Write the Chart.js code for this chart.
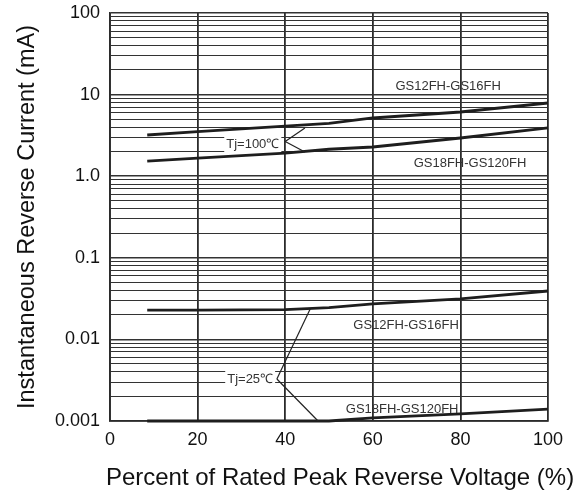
<!DOCTYPE html>
<html>
<head>
<meta charset="utf-8">
<script src="https://cdn.jsdelivr.net/npm/chart.js"></script>
<style>
  html, body { margin: 0; padding: 0; background: #fff; }
  #wrap { width: 584px; height: 494px; }
</style>
</head>
<body>
<div id="wrap"><canvas id="irChart"></canvas></div>
<script>
// Reverse leakage vs. percent of rated voltage (log axis)
const voltagePct = [8.5, 20, 40, 50, 60, 80, 100];

// Tj = 100 C
const hot12to16 = [3.20, 3.51, 4.12, 4.45, 5.17, 6.12, 7.89];
const hot18to120 = [1.53, 1.67, 1.92, 2.14, 2.28, 2.94, 3.90];
// Tj = 25 C
const cold12to16 = [0.0229, 0.0229, 0.0232, 0.0245, 0.0272, 0.0313, 0.0392];
const cold18to120 = [0.001, 0.001, 0.001, 0.001, 0.00109, 0.00122, 0.0014];

const xTicks = [0, 20, 40, 60, 80, 100];
const yDecades = [0.001, 0.01, 0.1, 1, 10, 100];
const yDecadeLabels = ['0.001', '0.01', '0.1', '1.0', '10', '100'];
const gridSteps = [1, 2, 3, 4, 5, 6, 7, 8, 9];

const xTitle = 'Percent of Rated Peak Reverse Voltage (%)';
const yTitle = 'Instantaneous Reverse Current (mA)';

// gridline values: 1..9 in every decade, then the top one
const yGrid = [];
yDecades.slice(0, -1).forEach(d => gridSteps.forEach(m => yGrid.push(+(d * m).toPrecision(3))));
yGrid.push(100);

const decadeLabel = (v) => {
    const i = yDecades.findIndex(d => Math.abs(v - d) / d < 1e-6);
    return i >= 0 ? yDecadeLabels[i] : '';
};

const pts = (ys) => voltagePct.map((x, i) => ({ x: x, y: ys[i] }));

const FONT = '"Liberation Sans", Arial, sans-serif';

const curveStyle = {
    borderColor: '#1e1e1e',
    borderWidth: 2.8,
    pointRadius: 0,
    tension: 0,
    fill: false,
    clip: false
};

// labels and leader lines, placed in data coordinates
const notes = [
    { text: 'GS12FH-GS16FH', x: 77.2, y: 12.7 },
    { text: 'GS18FH-GS120FH', x: 82.2, y: 1.45 },
    { text: 'Tj=100\u2103', x: 32.6, y: 2.48, bg: true },
    { text: 'GS12FH-GS16FH', x: 67.6, y: 0.0150 },
    { text: 'GS18FH-GS120FH', x: 66.7, y: 0.00140 },
    { text: 'Tj=25\u2103', x: 32.0, y: 0.00327, bg: true }
];
const leaders = [
    [[40, 2.66], [44.5, 3.90]],
    [[40, 2.66], [44.5, 1.98]],
    [[38.1, 0.00327], [45.7, 0.0236]],
    [[38.1, 0.00327], [47.5, 0.001]]
];

const notesPlugin = {
    id: 'notes',
    afterDatasetsDraw(chart) {
        const { ctx, scales: { x, y } } = chart;
        ctx.save();
        ctx.strokeStyle = '#222';
        ctx.lineWidth = 1.2;
        leaders.forEach(seg => {
            ctx.beginPath();
            ctx.moveTo(x.getPixelForValue(seg[0][0]), y.getPixelForValue(seg[0][1]));
            ctx.lineTo(x.getPixelForValue(seg[1][0]), y.getPixelForValue(seg[1][1]));
            ctx.stroke();
        });
        ctx.font = '13px ' + FONT;
        ctx.textAlign = 'center';
        ctx.textBaseline = 'middle';
        notes.forEach(n => {
            const px = x.getPixelForValue(n.x);
            const py = y.getPixelForValue(n.y);
            if (n.bg) {
                const w = ctx.measureText(n.text).width;
                ctx.fillStyle = '#fff';
                ctx.fillRect(px - w / 2 - 2, py - 8, w + 4, 16);
            }
            ctx.fillStyle = '#333';
            ctx.fillText(n.text, px, py);
        });
        ctx.restore();
    },
    // x title is wider than the plot, so it is drawn here without a max width
    afterDraw(chart) {
        const { ctx, chartArea } = chart;
        ctx.save();
        ctx.font = '24px ' + FONT;
        ctx.fillStyle = '#111';
        ctx.textAlign = 'center';
        ctx.textBaseline = 'alphabetic';
        ctx.fillText(xTitle, (chartArea.left + chartArea.right) / 2 + 11, chartArea.bottom + 64);
        ctx.restore();
    }
};

const ctx = document.getElementById('irChart').getContext('2d');

const chart = new Chart(ctx, {
    type: 'line',
    data: {
        datasets: [
            Object.assign({ label: 'GS12FH-GS16FH Tj=100', data: pts(hot12to16) }, curveStyle),
            Object.assign({ label: 'GS18FH-GS120FH Tj=100', data: pts(hot18to120) }, curveStyle),
            Object.assign({ label: 'GS12FH-GS16FH Tj=25', data: pts(cold12to16) }, curveStyle),
            Object.assign({ label: 'GS18FH-GS120FH Tj=25', data: pts(cold18to120) }, curveStyle)
        ]
    },
    options: {
        responsive: true,
        maintainAspectRatio: false,
        animation: false,
        layout: {
            padding: { left: 0, right: 36, top: 13, bottom: 0 }
        },
        plugins: {
            legend: { display: false },
            tooltip: { enabled: false }
        },
        scales: {
            x: {
                type: 'linear',
                min: 0,
                max: 100,
                afterBuildTicks: (scale) => { scale.ticks = xTicks.map(v => ({ value: v })); },
                afterFit: (scale) => {
                    scale.height = 73;
                    scale.paddingLeft = 0;
                    scale.paddingRight = 0;
                },
                grid: {
                    color: '#2b2b2b',
                    lineWidth: 1.8,
                    drawTicks: false
                },
                border: { color: '#2b2b2b', width: 1.8 },
                ticks: {
                    color: '#111',
                    padding: 8,
                    font: { family: FONT, size: 18 }
                }
            },
            y: {
                type: 'logarithmic',
                min: 0.001,
                max: 100,
                afterBuildTicks: (scale) => { scale.ticks = yGrid.map(v => ({ value: v })); },
                afterFit: (scale) => {
                    scale.width = 110;
                    scale.paddingTop = 0;
                    scale.paddingBottom = 0;
                },
                grid: {
                    color: '#333',
                    lineWidth: (c) => (decadeLabel(c.tick ? c.tick.value : 0) ? 1.6 : 1.1),
                    drawTicks: false
                },
                border: { color: '#2b2b2b', width: 1.8 },
                ticks: {
                    color: '#111',
                    padding: 10,
                    autoSkip: false,
                    font: { family: FONT, size: 18 },
                    callback: (value) => decadeLabel(value)
                },
                title: {
                    display: true,
                    text: yTitle,
                    color: '#111',
                    padding: { top: 13, bottom: 0 },
                    font: { family: FONT, size: 23.5 }
                }
            }
        }
    },
    plugins: [notesPlugin]
});
</script>
</body>
</html>
